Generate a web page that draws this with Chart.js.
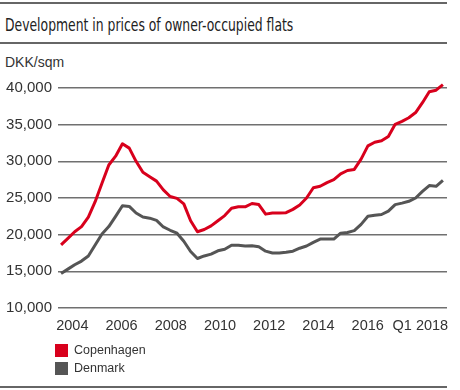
<!DOCTYPE html>
<html>
<head>
<meta charset="utf-8">
<script src="https://cdn.jsdelivr.net/npm/chart.js@4"></script>
<style>
  body { margin: 0; background: #fff; }
  #wrap { position: relative; width: 460px; height: 390px; font-family: "Liberation Sans", Arial, sans-serif; }
  .rule { position: absolute; left: 0; width: 447px; height: 1.5px; background: #666; }
  #title { position: absolute; left: 5px; top: 14px; line-height: 22px; font-size: 17px; color: #222; white-space: nowrap;
           font-family: "Liberation Sans Narrow", "DejaVu Sans Condensed", sans-serif;
           transform: scaleX(0.81); transform-origin: left center; }
  #unit { position: absolute; left: 5px; top: 53px; line-height: 18px; font-size: 14px; color: #333; }
  #box { position: absolute; left: 0; top: 0; width: 460px; height: 390px; }
  #legend { position: absolute; left: 55px; top: 344px; font-size: 12.5px; color: #333; }
  #legend div { height: 18px; line-height: 13px; }
  #legend span { display: inline-block; width: 13px; height: 13px; vertical-align: top; margin-right: 6px; }
</style>
</head>
<body>
<div id="wrap">
  <div class="rule" style="top:2px"></div>
  <div id="title">Development in prices of owner-occupied flats</div>
  <div class="rule" style="top:42px"></div>
  <div id="unit">DKK/sqm</div>
  <div id="box"><canvas id="grafico"></canvas></div>
  <div id="legend"></div>
  <div class="rule" style="top:386px"></div>
</div>
<script>
// quarterly prices, DKK per sqm
const copenhagen = [18600, 19500, 20400, 21100, 22400, 24500, 27000, 29500, 30700, 32400,
  31800, 30000, 28500, 27900, 27300, 26100, 25200, 24950, 24200, 21900,
  20400, 20700, 21200, 21900, 22600, 23600, 23800, 23800, 24250, 24100,
  22800, 22950, 22950, 23000, 23450, 24050, 25000, 26400, 26600, 27100,
  27500, 28300, 28750, 28900, 30300, 32100, 32600, 32800, 33400, 35050,
  35450, 35950, 36650, 38000, 39500, 39700, 40450];
const denmark = [14700, 15300, 15900, 16400, 17100, 18600, 20100, 21100, 22500, 23950,
  23850, 22950, 22400, 22250, 21950, 21050, 20600, 20200, 19100, 17700,
  16750, 17100, 17350, 17800, 18000, 18550, 18550, 18450, 18500, 18350,
  17750, 17500, 17500, 17600, 17750, 18150, 18450, 18950, 19400, 19400,
  19400, 20200, 20300, 20550, 21400, 22500, 22650, 22750, 23200, 24100,
  24300, 24550, 25000, 25900, 26700, 26600, 27400];
const xTickLabels = ["2004", "2006", "2008", "2010", "2012", "2014", "2016", "Q1 2018"];
const yTicks = [10000, 15000, 20000, 25000, 30000, 35000, 40000];

const tickStart = 1.65, tickStep = 7.22;

const pontos = (arr) => arr.map((v, i) => ({ x: i, y: v }));

const grafico = new Chart(document.getElementById("grafico"), {
  type: "line",
  data: {
    datasets: [
      {
        label: "Copenhagen",
        data: pontos(copenhagen),
        borderColor: "#d8001c",
        backgroundColor: "#d8001c",
        borderWidth: 3,
        pointRadius: 0,
        tension: 0,
        clip: false,
        borderJoinStyle: "round",
      },
      {
        label: "Denmark",
        data: pontos(denmark),
        borderColor: "#555555",
        backgroundColor: "#555555",
        borderWidth: 3,
        pointRadius: 0,
        tension: 0,
        clip: false,
        borderJoinStyle: "round",
      },
    ],
  },
  options: {
    responsive: true,
    maintainAspectRatio: false,
    animation: false,
    layout: { padding: { left: 0, right: 13, top: 88, bottom: 52 } },
    plugins: { legend: { display: false }, tooltip: { enabled: false } },
    scales: {
      x: {
        type: "linear",
        min: -0.45,
        max: copenhagen.length - 0.4,
        grid: { display: false },
        border: { display: false },
        afterFit: (s) => { s.height = 30; },
        afterBuildTicks: (s) => {
          s.ticks = xTickLabels.map((l, i) => ({ value: tickStart + i * tickStep + (i === xTickLabels.length - 1 ? 0.5 : 0) }));
        },
        ticks: {
          autoSkip: false,
          maxRotation: 0,
          padding: 1,
          color: "#333",
          font: { family: "Liberation Sans", size: 14.5 },
          callback: (v, i) => xTickLabels[i],
        },
      },
      y: {
        min: 10000,
        max: 40000,
        afterFit: (s) => { s.width = 58; },
        afterBuildTicks: (s) => { s.ticks = yTicks.map((v) => ({ value: v })); },
        grid: { color: "#707070", lineWidth: 1.5, drawTicks: false },
        border: { display: false },
        ticks: {
          padding: 6,
          color: "#333",
          font: { family: "Liberation Sans", size: 15 },
          callback: (v) => v.toLocaleString("en-US"),
        },
      },
    },
  },
});

// legenda
document.getElementById("legend").innerHTML = grafico.data.datasets
  .map((d) => `<div><span style="background:${d.borderColor}"></span>${d.label}</div>`)
  .join("");
</script>
</body>
</html>
